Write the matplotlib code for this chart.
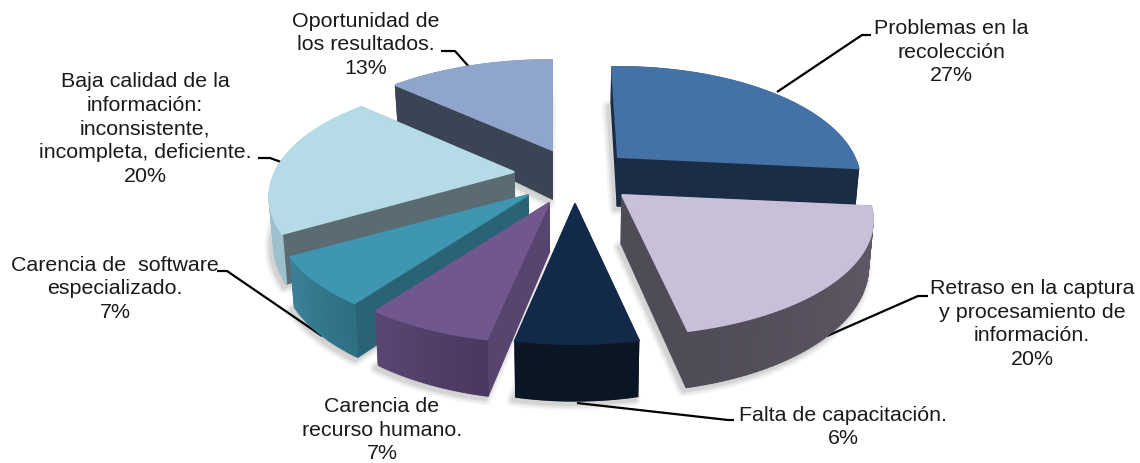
import numpy as np
import matplotlib
matplotlib.use('Agg')
import matplotlib.pyplot as plt
from matplotlib.patches import Polygon
from matplotlib.colors import to_rgb

plt.rcParams['font.family'] = ['Liberation Sans', 'DejaVu Sans']

labels = ['Problemas en la\nrecolección',
          'Retraso en la captura\ny procesamiento de\ninformación.',
          'Falta de capacitación.',
          'Carencia de\nrecurso humano.',
          'Carencia de  software\nespecializado.',
          'Baja calidad de la\ninformación:\ninconsistente,\nincompleta, deficiente.',
          'Oportunidad de\nlos resultados.']
percents = [27, 20, 6, 7, 7, 20, 13]
# slice sizes, the printed percents are rounded
sizes = [27.1, 20.0, 6.6, 6.7, 6.7, 20.3, 13.1]
start_pct = -0.5

# look of each slice, same order as values
apex_x = [618, 622, 575, 549, 528, 514, 552]
apex_y = [157, 195, 204, 203, 195, 172, 150]
rx_scale = [0.965, 1.0, 0.965, 1.0, 1.0, 0.975, 1.0]
top_col = ['#4472a6', '#c8bfd9', '#12294a', '#70578d', '#3f96b0', '#b5dbe6', '#90a5cc']
cut_col = ['#1b2d44', '#4f4b57', '#0a1624', '#59446f', '#2a6375', '#5a6b72', '#3a4454']
rim_a = ['#1b2d44', '#635c69', '#0a1624', '#4a3860', '#2e6f82', '#9dc0cd', '#3a4454']
rim_b = ['#1b2d44', '#4f4b57', '#0a1624', '#5a4672', '#3a8299', '#9dc0cd', '#90a5cc']

# back to front
order = [6, 0, 5, 4, 3, 1, 2]

text_x = [951, 1032, 843, 382, 115, 145, 366]
text_y = [52, 324, 427, 430, 289, 129, 45]

# (from) -> (elbow) -> (end) for the leader lines
leaders = [[(777, 92), (862, 35), (871, 35)],
           [(827, 336), (918, 296), (928, 296)],
           [(577, 403), (728, 420), (734, 420)],
           [(322, 336), (227, 271), (217, 271)],
           [(281, 162), (270, 158), (258, 158)],
           [(470, 68), (455, 51), (441, 51)]]

RX = 245.0
RY = 109.6
K = 0.2174
DEPTH = 44.5
APEX_DEPTH = 49.0


def top_pts(i, t):
    u = np.sin(t)
    v = np.cos(t)
    w = 1 + K * v
    return apex_x[i] + RX * rx_scale[i] * u / w, apex_y[i] - RY * v / w


def low_pts(i, t):
    x, y = top_pts(i, t)
    w = 1 + K * np.cos(t)
    return 570 + (x - 570) * 0.985, y + DEPTH / w


fig = plt.figure(figsize=(11.4, 4.63), dpi=100)
ax = fig.add_axes([0, 0, 1, 1])
ax.set_xlim(0, 1140)
ax.set_ylim(463, 0)
ax.axis('off')

edges = (start_pct + np.cumsum([0] + sizes)) / 100 * 2 * np.pi

# soft shadows first
for i in order:
    t = np.linspace(edges[i], edges[i + 1], 60)
    x, y = low_pts(i, t)
    px = np.r_[apex_x[i], x] - 3
    py = np.r_[apex_y[i] + APEX_DEPTH, y] + 3
    for lw, c in [(9, '#f4f4f4'), (6, '#e6e6e6'), (3, '#d4d4d4')]:
        ax.add_patch(Polygon(np.c_[px, py], closed=True, fc='#c8c8c8', ec=c, lw=lw, joinstyle='round', zorder=0.2))

for pts in leaders:
    pts = np.array(pts)
    ax.plot(pts[:, 0], pts[:, 1], color='black', lw=1.6, solid_capstyle='butt', zorder=0.5)

for i in order:
    a0, a1 = apex_x[i], apex_y[i]
    t = np.linspace(edges[i], edges[i + 1], 60)
    tx, ty = top_pts(i, t)
    bx, by = low_pts(i, t)
    bax = 570 + (a0 - 570) * 0.985
    bay = a1 + APEX_DEPTH

    faces = []
    faces.append(([a0, tx[0], bx[0], bax], [a1, ty[0], by[0], bay], cut_col[i]))
    faces.append(([a0, tx[-1], bx[-1], bax], [a1, ty[-1], by[-1], bay], cut_col[i]))
    ca = np.array(to_rgb(rim_a[i]))
    cb = np.array(to_rgb(rim_b[i]))
    for j in range(len(t) - 1):
        f = j / (len(t) - 2)
        faces.append(([tx[j], tx[j + 1], bx[j + 1], bx[j]], [ty[j], ty[j + 1], by[j + 1], by[j]],
                      tuple(ca + (cb - ca) * f)))
    # paint far faces first
    faces.sort(key=lambda q: np.mean(q[1]))
    for fx, fy, c in faces:
        ax.add_patch(Polygon(np.c_[fx, fy], closed=True, fc=c, ec=c, lw=1.0, joinstyle='round'))

    # thick enough edge to hide the back rim sticking out
    ax.add_patch(Polygon(np.c_[np.r_[a0, tx], np.r_[a1, ty]], closed=True, fc=top_col[i], ec=top_col[i], lw=1.4))

for i in range(len(percents)):
    ax.text(text_x[i], text_y[i], labels[i] + '\n' + str(percents[i]) + '%', ha='center', va='center',
            fontsize=15.4, color='#1a1a1a', linespacing=1.32)

fig.savefig('out.png', dpi=100)
